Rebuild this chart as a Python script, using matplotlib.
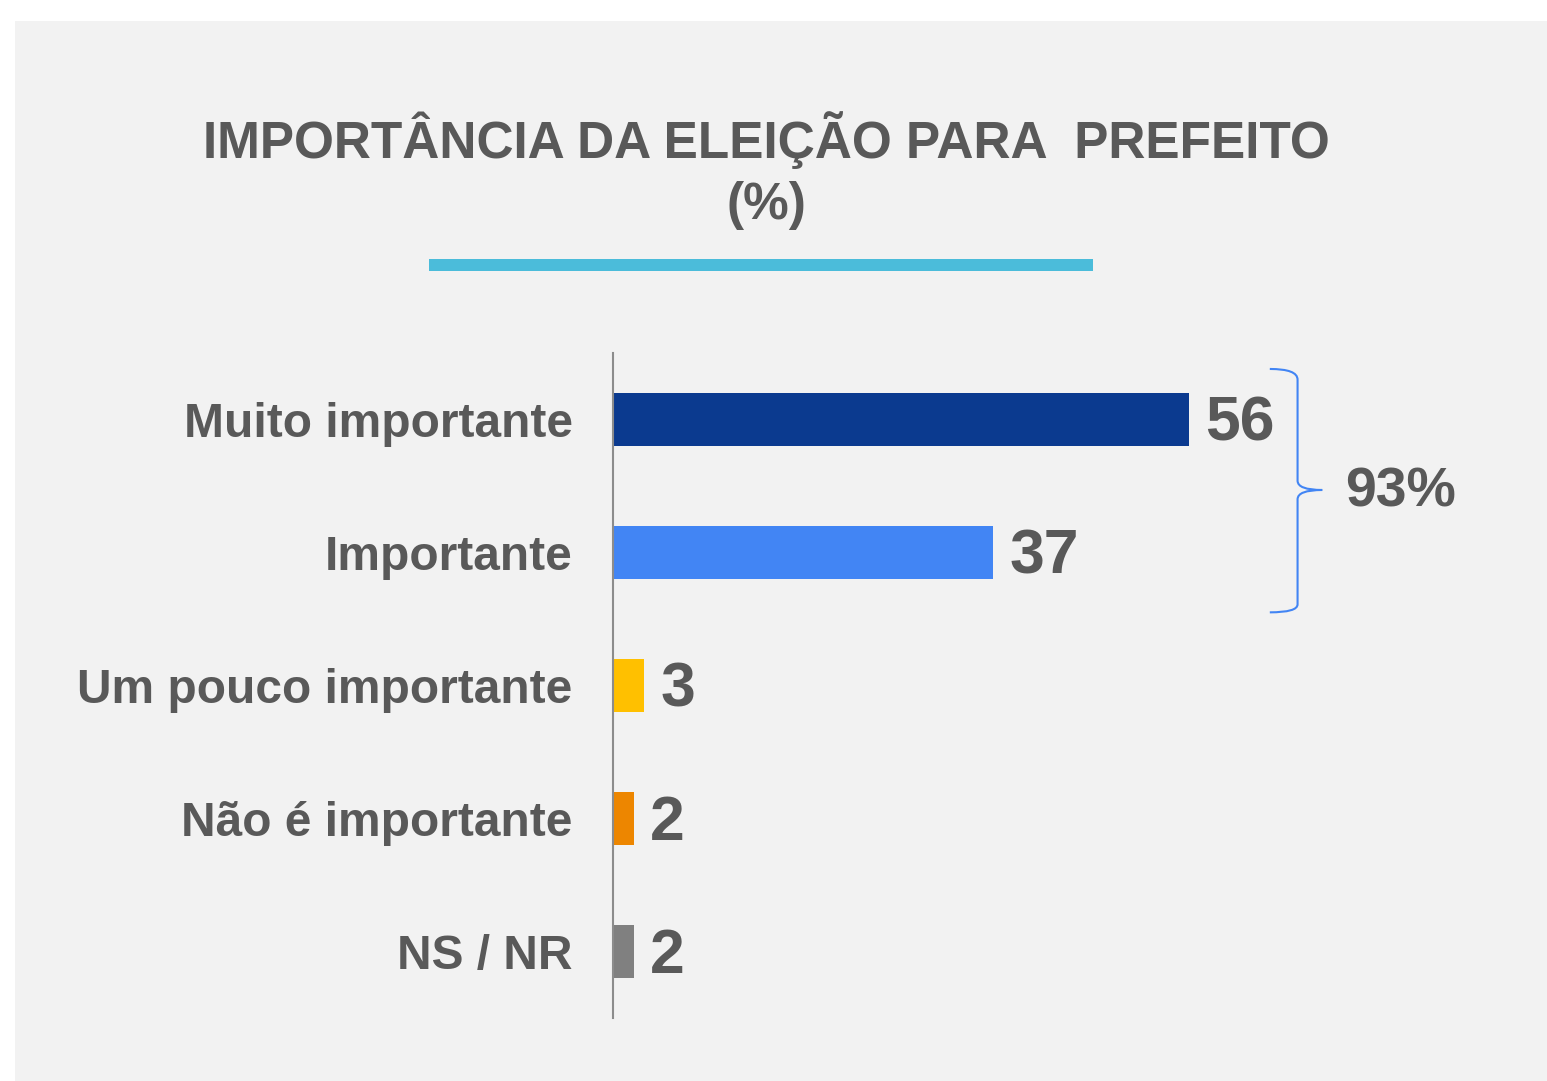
import matplotlib.pyplot as plt
from matplotlib.patches import Rectangle, PathPatch
from matplotlib.path import Path

# Dados
categorias = ['Muito importante', 'Importante', 'Um pouco importante', 'Não é importante', 'NS / NR']
valores = [56, 37, 3, 2, 2]
cores = ['#0B3A8F', '#4285F4', '#FFC000', '#ED8600', '#808080']
total_importante = 93

texto = '#595959'

fig = plt.figure(figsize=(15.47, 10.81), dpi=100)
W, H = 1547, 1081

# Fundo cinza
fig.patches.append(Rectangle((15 / W, 0), 1 - 15 / W, 1 - 21 / H, transform=fig.transFigure,
                             facecolor='#F2F2F2', edgecolor='none', zorder=-1))

# Título
fig.text(766 / W, 1 - 140 / H, 'IMPORTÂNCIA DA ELEIÇÃO PARA  PREFEITO', ha='center', va='center',
         fontsize=37, fontweight='bold', color=texto,
         family=['Liberation Sans Narrow', 'Liberation Sans'])
fig.text(766 / W, 1 - 205 / H, '(%)', ha='center', va='center',
         fontsize=37, fontweight='bold', color=texto,
         family=['Liberation Sans Narrow', 'Liberation Sans'])
fig.patches.append(Rectangle((429 / W, 1 - 271 / H), (1093 - 429) / W, 12 / H, transform=fig.transFigure,
                             facecolor='#4BBCDA', edgecolor='none', zorder=1))

# Eixo do gráfico
ax = fig.add_axes([613 / W, 1 - 1018 / H, 922 / W, (1018 - 353) / H])
ax.set_zorder(2)
ax.set_facecolor('none')
y = list(range(len(categorias)))
ax.barh(y, valores, height=0.4, color=cores)
ax.set_ylim(len(categorias) - 0.5, -0.5)
ax.set_xlim(0, 89.7)

ax.set_yticks(y)
ax.set_yticklabels(categorias, fontsize=34.5, fontweight='bold', color=texto, family='Liberation Sans')
ax.tick_params(axis='y', length=0, pad=29)
ax.set_xticks([])
for lado in ['top', 'right', 'bottom']:
    ax.spines[lado].set_visible(False)
ax.spines['left'].set_color('#8C8C8C')
ax.spines['left'].set_linewidth(1.5)

for i, v in enumerate(valores):
    ax.text(v + 1.6, i + 0.035, str(v), va='center', ha='left', fontsize=45, fontweight='bold',
            color=texto, family='Liberation Sans')

# Chave agrupando as duas primeiras categorias
xb, xl, xt = 66.6, 63.9, 69.0
verts = [(xl, -0.38), (xb, -0.38), (xb, -0.3),
         (xb, 0.46),
         (xb, 0.53), (xt, 0.53),
         (xb, 0.53), (xb, 0.6),
         (xb, 1.39),
         (xb, 1.45), (xl, 1.45)]
codes = [Path.MOVETO, Path.CURVE3, Path.CURVE3,
         Path.LINETO,
         Path.CURVE3, Path.CURVE3,
         Path.CURVE3, Path.CURVE3,
         Path.LINETO,
         Path.CURVE3, Path.CURVE3]
ax.add_patch(PathPatch(Path(verts, codes), facecolor='none', edgecolor='#4285F4', lw=1.5,
                       clip_on=False))
ax.text(71.2, 0.55, f'{total_importante}%', va='center', ha='left', fontsize=40,
        fontweight='bold', color=texto, family='Liberation Sans')

fig.savefig('out.png', dpi=100)
